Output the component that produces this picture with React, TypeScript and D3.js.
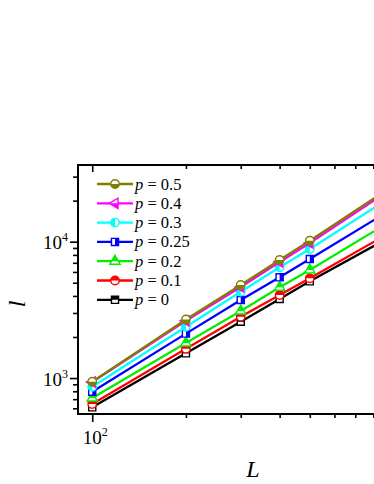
import React, { useEffect, useRef } from 'react';
import * as d3 from 'd3';

// system sizes
const L_VALUES = [100, 200, 300, 400, 500, 1000];

// l values per p
const P0 = [610, 1517, 2590, 3800, 5117, 12270];
const P01 = [645, 1641, 2820, 4063, 5385, 13280];
const P02 = [713, 1806, 3102, 4625, 6200, 16110];
const P025 = [793, 2118, 3733, 5480, 7465, 19520];
const P03 = [863, 2376, 4298, 6490, 8840, 24270];
const P04 = [935, 2630, 4653, 7100, 9780, 28000];
const P05 = [939, 2686, 4810, 7350, 10170, 28900];

const P_LABELS = ['0', '0.1', '0.2', '0.25', '0.3', '0.4', '0.5'];
const SERIES = [P0, P01, P02, P025, P03, P04, P05];
const COLORS = ['#000000', '#ff0000', '#00ee00', '#0000ff', '#00ffff', '#ff00ff', '#808000'];
const SHAPES = ['square', 'circle', 'triangle', 'square', 'circle', 'triangleLeft', 'circle'];
const HALVES = ['top', 'top', 'top', 'right', 'left', 'left', 'bottom'];

const X_TICKS = [100, 200, 300, 400, 500, 600, 700, 800, 900, 1000];
const Y_TICKS = [600, 700, 800, 900, 1000, 2000, 3000, 4000, 5000, 6000, 7000, 8000, 9000, 10000, 20000, 30000];

const W = 374, H = 484;
const FONT = '"Liberation Serif", "Times New Roman", serif';

const App = () => {
  const ref = useRef<SVGSVGElement>(null);

  useEffect(() => {
    const svg = d3.select(ref.current);
    svg.selectAll('*').remove();

    const left = 78, top = 165, bottom = 414, right = 420;
    const x = d3.scaleLog().domain([90, 1130]).range([left, right]);
    const y = d3.scaleLog().domain([545, 36500]).range([bottom, top]);
    const isMajor = (d: number) => Math.abs(Math.log10(d) - Math.round(Math.log10(d))) < 1e-9;

    const defs = svg.append('defs');
    const clips: any = { top: [-10, -10, 20, 10], bottom: [-10, 0, 20, 10], left: [-10, -10, 10, 20], right: [0, -10, 10, 20] };
    Object.keys(clips).forEach(k => {
      const c = clips[k];
      defs.append('clipPath').attr('id', 'half-' + k)
        .append('rect').attr('x', c[0]).attr('y', c[1]).attr('width', c[2]).attr('height', c[3]);
    });

    // bottom axis
    const gb = svg.append('g').attr('transform', `translate(0,${bottom})`)
      .call(d3.axisBottom(x).tickValues(X_TICKS.filter(d => x(d) < W + 5)).tickFormat(() => ''));
    gb.select('.domain').remove();
    gb.selectAll('.tick line').attr('y2', (d: any) => isMajor(d) ? 8 : 4).attr('stroke-width', 1.6);

    // top axis (inward)
    const gt = svg.append('g').attr('transform', `translate(0,${top})`)
      .call(d3.axisTop(x).tickValues(X_TICKS.filter(d => x(d) < W + 5)).tickFormat(() => ''));
    gt.select('.domain').remove();
    gt.selectAll('.tick line').attr('y2', (d: any) => isMajor(d) ? 7 : 4).attr('stroke-width', 1.6);

    // left axis
    const gl = svg.append('g').attr('transform', `translate(${left},0)`)
      .call(d3.axisLeft(y).tickValues(Y_TICKS).tickFormat(() => ''));
    gl.select('.domain').remove();
    gl.selectAll('.tick line').attr('x2', (d: any) => isMajor(d) ? -8 : -5).attr('stroke-width', 1.6);

    // frame
    svg.append('rect').attr('x', left).attr('y', top).attr('width', right - left).attr('height', bottom - top)
      .attr('fill', 'none').attr('stroke', '#000').attr('stroke-width', 2);

    // tick labels
    const yLab = svg.append('g').attr('font-family', FONT).attr('fill', '#000');
    Y_TICKS.filter(isMajor).forEach(d => {
      const t = yLab.append('text').attr('x', 68).attr('y', y(d) + 7.5).attr('text-anchor', 'end').attr('font-size', 19);
      t.append('tspan').text('10');
      t.append('tspan').attr('font-size', 12).attr('dy', -8).text(String(Math.round(Math.log10(d))));
    });
    X_TICKS.filter(isMajor).filter(d => x(d) < W).forEach(d => {
      const t = yLab.append('text').attr('x', x(d) + 3).attr('y', bottom + 29.5).attr('text-anchor', 'middle').attr('font-size', 19);
      t.append('tspan').text('10');
      t.append('tspan').attr('font-size', 12).attr('dy', -8).text(String(Math.round(Math.log10(d))));
    });

    // axis titles
    svg.append('text').attr('x', 253).attr('y', 477).attr('text-anchor', 'middle')
      .attr('font-family', FONT).attr('font-style', 'italic').attr('font-size', 24).text('L');
    svg.append('text').attr('transform', 'translate(25,304) rotate(-90)').attr('text-anchor', 'middle')
      .attr('font-family', FONT).attr('font-style', 'italic').attr('font-size', 24).text('l');

    const symbolFor = (shape: string) => {
      if (shape === 'circle') return d3.symbol().type(d3.symbolCircle).size(56)();
      if (shape === 'square') return d3.symbol().type(d3.symbolSquare).size(50)();
      return d3.symbol().type(d3.symbolTriangle).size(46)();
    };
    const drawMarker = (g: any, cx: number, cy: number, i: number) => {
      const m = g.append('g').attr('transform', `translate(${cx},${cy})`);
      const rot = SHAPES[i] === 'triangleLeft' ? 'rotate(-90)' : null;
      const p = symbolFor(SHAPES[i]);
      m.append('path').attr('d', p).attr('transform', rot).attr('fill', '#fff').attr('stroke', COLORS[i]).attr('stroke-width', 1.4);
      m.append('path').attr('d', p).attr('transform', rot)
        .attr('fill', COLORS[i]).attr('clip-path', `url(#half-${HALVES[i]})`);
    };

    const line = d3.line<number>().x((d, i) => x(L_VALUES[i])).y(d => y(d));
    SERIES.forEach((s, i) => {
      const g = svg.append('g');
      g.append('path').datum(s).attr('d', line).attr('fill', 'none')
        .attr('stroke', COLORS[i]).attr('stroke-width', 2.3);
      s.forEach((v, j) => drawMarker(g, x(L_VALUES[j]), y(v), i));
    });

    // legend
    const lg = svg.append('g');
    const order = [6, 5, 4, 3, 2, 1, 0];
    order.forEach((i, k) => {
      const ry = 184 + k * 19.3;
      lg.append('line').attr('x1', 97).attr('x2', 133).attr('y1', ry).attr('y2', ry)
        .attr('stroke', COLORS[i]).attr('stroke-width', 2.3);
      drawMarker(lg, 115, ry, i);
      const t = lg.append('text').attr('x', 135).attr('y', ry + 5.5).attr('font-family', FONT).attr('font-size', 16.5);
      t.append('tspan').attr('font-style', 'italic').text('p');
      t.append('tspan').text(' = ' + P_LABELS[i]);
    });
  }, []);

  return (
    <svg ref={ref} width={W} height={H} style={{ position: 'absolute', left: 0, top: 0, background: '#fff' }} />
  );
};

export default App;
